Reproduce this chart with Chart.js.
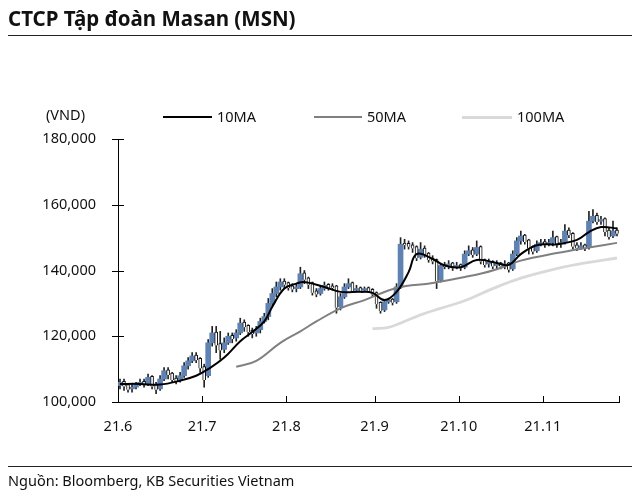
<!DOCTYPE html>
<html>
<head>
<meta charset="utf-8">
<script src="https://cdn.jsdelivr.net/npm/chart.js@4/dist/chart.umd.min.js"></script>
<style>
  body { margin: 0; background: #fff; font-family: "Noto Sans", sans-serif; color: #111; }
  #wrap { position: relative; width: 640px; height: 500px; overflow: hidden; }
  canvas { position: absolute; left: 0; top: 0; }
  .abs { position: absolute; white-space: nowrap; }
  .title { left: 8px; top: 4px; font-size: 20.5px; font-weight: bold; }
  .rule { position: absolute; left: 8px; width: 624px; height: 0; border-top: 1.3px solid #222; }
  .unit { left: 46px; top: 104px; font-size: 14.5px; }
  .leg { top: 106px; font-size: 14.5px; }
  .legline { position: absolute; height: 0; }
  .src { left: 8px; top: 470px; font-size: 14.5px; }
</style>
</head>
<body>
<div id="wrap">
  <canvas id="chart" width="640" height="500"></canvas>
  <div class="abs title">CTCP Tập đoàn Masan (MSN)</div>
  <div class="rule" style="top:35px"></div>
  <div class="abs unit">(VND)</div>
  <div class="legline" style="left:163px;top:116px;width:49px;border-top:2px solid #000"></div>
  <div class="abs leg" style="left:217px">10MA</div>
  <div class="legline" style="left:314px;top:116px;width:48px;border-top:2px solid #808080"></div>
  <div class="abs leg" style="left:367px">50MA</div>
  <div class="legline" style="left:462px;top:116px;width:50px;border-top:3px solid #d9d9d9"></div>
  <div class="abs leg" style="left:517px">100MA</div>
  <div class="rule" style="top:466px"></div>
  <div class="abs src">Nguồn: Bloomberg, KB Securities Vietnam</div>
</div>
<script>
// daily prices, thousand VND, trading day 0 = early June 2021
const opens = [105,106,105,104,104.5,105.5,106,105.5,107.5,105,104,107,109.5,108.5,107,106.5,108,111,112.5,114,
  113,110.5,108,118,121,117.5,116,118,120,119.5,121,124,123,121.5,121,122,124.5,126,130,133,
  135,136.5,136,135,134.5,135,139,137.5,136,133.5,133,134.5,135.5,135,135,129,132,135,136,134,
  134.5,134,134.5,134,133,130,128,130.5,131,130.5,135,148,148,147.5,147,144,146.5,145,143.5,143,
  137,141.5,141.5,142,141,141.5,141,145,146,145,147,143,142,142.5,141.5,142,141.5,142,140.5,145,
  149,150.5,149,147,146,148,148.5,148,148.5,150,148,148.5,152,151,147.5,147,147.5,147,155,156.5,
  155,155.5,152,150.5,152];
const closes = [106,105,104,104.5,105.5,106,105.5,107.5,105,104,107,109.5,108.5,107,106.5,108,111,112.5,114,113,
  110.5,107,118,121,117.5,116,118,120,119.5,121,124,123,121.5,121,122,124.5,126,130,133,135,
  136.5,136,135,134.5,135,139,137.5,136,133.5,133,134.5,135.5,135,135,129,132,135,136,134,134.5,
  134,134.5,134,133,130,128,130.5,131,130.5,135,148,148,147.5,147,144,146.5,145,143.5,143,137,
  141.5,141.5,142,141,141.5,141,145,146,145,147,143,142,142.5,141.5,142,141.5,142,140.5,145,149,
  150.5,149,147,146,148,148.5,148,148.5,150,148,148.5,152,151,147.5,147,147.5,147,155,156.5,155,
  155.5,152,150.5,152,151.5];
const highs = [107,107,105.5,105.5,106,107,107,108.5,108,106,108,110.5,110.5,109,108,109,112,113.5,115,115,
  113.5,111.5,119,123,123,121.5,119.5,121,121,122,125.5,125,123.5,122.5,123,125.5,127,131.5,134.5,136.5,
  137.5,137.5,136.5,136,136,141,140,138,136.5,134.5,135.5,136.5,136,136,135.5,133,136,137.5,136.5,135.5,
  135,135,135,134.5,133.5,130.5,131,131.5,131.5,136,150,149.5,149,148.5,147.5,148.5,147.5,145.5,144.5,143.5,
  142,142.5,143,142.5,142.5,142,146,147.5,147,149,147.5,143.5,143.5,143,143,142.5,143,142.5,146,150,
  152,151,149.5,147.5,149,149.5,149.5,149.5,152,150.5,149.5,154,153,151.5,148.5,148.5,148,158,158.5,157.5,
  156.5,156,153,155,153];
const lows = [104,103.5,103,103,104,105,104.5,105,104,102.5,103.5,106.5,107,106,105.5,106,107.5,110,112,112,
  109,104.5,107.5,117,115,113,115,117.5,118,118.5,120.5,121.5,120,119.5,120,121,124,125,129,132,
  134,134.5,134,133.5,133.5,134.5,136,134.5,132.5,132,132.5,134,134,134,127,128,131.5,134.5,133.5,133.5,
  133.5,133.5,133.5,132,128.5,127,127.5,130,129.5,130,134.5,146.5,146.5,145.5,143,143.5,144,142.5,142,134.5,
  136.5,140.5,140.5,140,140.5,140,140.5,144.5,144,144.5,142,141,141,140.5,140.5,140.5,140.5,139.5,140,144.5,
  148,148,145,145,145.5,147.5,147,147.5,147.5,147,147,148,150,146.5,146,146.5,146,146.5,154.5,154,
  154,150.5,149.5,150,150.5];

// moving averages at sample days
const ma10Days = [0,5,10,15,19,22,26,30,33,36,38,41,44,46,51,55,60,63,66,69,72,74,78,81,85,89,94,97,100,104,109,114,117,120,124];
const ma10 = [105.5,105.5,105.3,106.5,108,110,113.5,118.5,121.3,124.5,129,134.5,136,136.5,135,133.5,133.5,133.2,131,133.5,
  139.5,145,143.5,141.5,141,143.2,142.3,141.7,145,147.7,148,149.3,151.7,153.2,152.8];
const ma50Days = [29,34,40,45,49,55,61,69,78,86,93,100,109,117,124];
const ma50 = [110.7,112.5,118,121.5,124.5,128.5,131,134.7,136.2,138,140,143,145.3,147,148.4];
const ma100Days = [63,67,70,75,80,86,93,100,109,117,124];
const ma100 = [122.3,122.7,124,126.5,128.5,130.8,134.5,137.7,140.6,142.5,143.8];

const monthLabels = ["21.6","21.7","21.8","21.9","21.10","21.11"];
const monthStarts = [0,21,42,64,85,106];
const yTicks = [100000,120000,140000,160000,180000];

const K = 1000;
const upBody = [], downBody = [], wicks = [];
closes.forEach((c, i) => {
  const o = opens[i];
  wicks.push({ x: i + 0.5, y: [lows[i] * K, highs[i] * K] });
  if (c > o) upBody.push({ x: i + 0.5, y: [o * K, c * K] });
  else downBody.push({ x: i + 0.5, y: [c * K - 300, o * K + 300] });
});
const toPts = (days, vals) => days.map((d, i) => ({ x: d + 0.5, y: vals[i] * K }));

// ticks crossing the y axis, and pointing up from the x axis
const axisTicks = {
  id: "axisTicks",
  afterDraw(chart) {
    const { ctx, scales: { x, y } } = chart;
    ctx.save();
    ctx.strokeStyle = "#000";
    ctx.lineWidth = 1;
    ctx.beginPath();
    yTicks.forEach(v => {
      const py = Math.round(y.getPixelForValue(v)) + 0.5;
      ctx.moveTo(x.left - 6, py);
      ctx.lineTo(x.left + 6, py);
    });
    monthStarts.concat([125]).forEach(v => {
      const px = Math.round(x.getPixelForValue(v)) + 0.5;
      ctx.moveTo(px, y.bottom);
      ctx.lineTo(px, y.bottom - 6);
    });
    ctx.stroke();
    ctx.restore();
  }
};

new Chart(document.getElementById("chart"), {
  type: "bar",
  data: {
    datasets: [
      { type: "line", data: toPts(ma10Days, ma10), borderColor: "#000", borderWidth: 2, pointRadius: 0, tension: 0.4, order: 0 },
      { type: "line", data: toPts(ma50Days, ma50), borderColor: "#808080", borderWidth: 2, pointRadius: 0, tension: 0.4, order: 1 },
      { type: "line", data: toPts(ma100Days, ma100), borderColor: "#d9d9d9", borderWidth: 2.8, pointRadius: 0, tension: 0.4, order: 5 },
      { data: downBody, backgroundColor: "#fff", borderColor: "#111", borderWidth: 1, barThickness: 3, grouped: false, order: 2 },
      { data: upBody, backgroundColor: "#5f82b3", barThickness: 5, grouped: false, order: 3 },
      { data: wicks, backgroundColor: "#222", barThickness: 1, grouped: false, order: 4 }
    ]
  },
  options: {
    responsive: false,
    animation: false,
    plugins: { legend: { display: false }, tooltip: { enabled: false } },
    layout: { padding: { top: 139, right: 21, left: 0, bottom: 0 } },
    scales: {
      x: {
        type: "linear",
        offset: false,
        min: 0,
        max: 125,
        afterFit: s => { s.height = 98; },
        afterBuildTicks: s => { s.ticks = monthStarts.map(v => ({ value: v })); },
        ticks: {
          autoSkip: false,
          maxRotation: 0,
          padding: 16,
          color: "#111",
          font: { family: "Noto Sans", size: 14.5 },
          callback: (v, i) => monthLabels[i]
        },
        grid: { display: false, drawTicks: false, offset: false },
        border: { color: "#000", width: 1 }
      },
      y: {
        min: 100000,
        max: 180000,
        afterFit: s => { s.width = 118; },
        afterBuildTicks: s => { s.ticks = yTicks.map(v => ({ value: v })); },
        ticks: {
          padding: 22,
          color: "#111",
          font: { family: "Noto Sans", size: 14.5 },
          callback: v => v.toLocaleString("en-US")
        },
        grid: { display: false, drawTicks: false },
        border: { color: "#000", width: 1 }
      }
    }
  },
  plugins: [axisTicks]
});
</script>
</body>
</html>
